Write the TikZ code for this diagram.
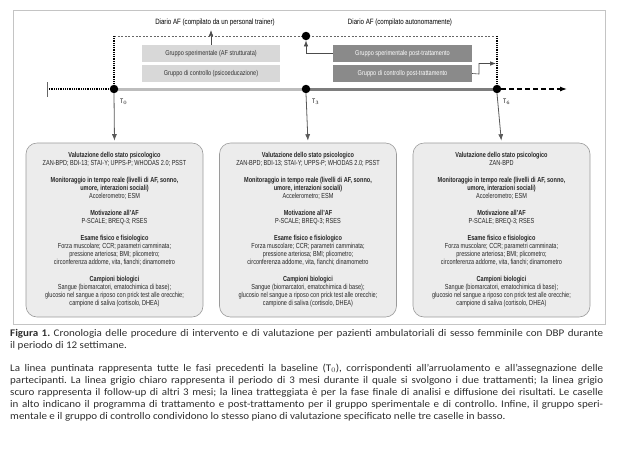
\documentclass[tikz,border=0pt]{standalone}
\usepackage{fontspec}
\setmainfont[FakeStretch=1.08]{Carlito}
\newfontfamily\cond[FakeStretch=0.8]{Liberation Sans}
\newfontfamily\condb[FakeStretch=0.76]{Liberation Sans}
\usetikzlibrary{arrows.meta,backgrounds}
\definecolor{framec}{HTML}{C4C4C4}
\definecolor{lightfill}{HTML}{D8D8D8}
\definecolor{darkfill}{HTML}{8A8A8A}
\definecolor{lightline}{HTML}{BDBDBD}
\definecolor{darkline}{HTML}{7E7E7E}
\definecolor{bfill}{HTML}{ECECEC}
\definecolor{bdraw}{HTML}{9A9A9A}
\definecolor{captc}{HTML}{2E2E2E}
\newcommand\bxtext[1]{%
\textbf{Valutazione dello stato psicologico}\\
#1\\[9pt]
\textbf{Monitoraggio in tempo reale (livelli di AF, sonno,}\\
\textbf{umore, interazioni sociali)}\\
Accelerometro; ESM\\[9pt]
\textbf{Motivazione all’AF}\\
P-SCALE; BREQ-3; RSES\\[9pt]
\textbf{Esame fisico e fisiologico}\\
Forza muscolare; CCR; parametri camminata;\\
pressione arteriosa; BMI; plicometro;\\
circonferenza addome, vita, fianchi; dinamometro\\[9pt]
\textbf{Campioni biologici}\\
Sangue (biomarcatori, ematochimica di base);\\
glucosio nel sangue a riposo con prick test alle orecchie;\\
campione di saliva (cortisolo, DHEA)}
\begin{document}
\begin{tikzpicture}[x=1pt,y=-1pt,
  small/.style={font=\cond\fontsize{7}{7.5}\selectfont},
  lbox/.style={small,fill=lightfill,text=black!80,minimum width=138pt,minimum height=17pt,inner sep=0pt},
  dbox/.style={small,fill=darkfill,text=white,minimum width=139pt,minimum height=17pt,inner sep=0pt},
  dot/.style={circle,fill=black,inner sep=0pt,minimum size=8.5pt},
  bbox/.style={font=\condb\fontsize{7.3}{8}\selectfont,align=center,fill=bfill,draw=bdraw,line width=0.6pt,rounded corners=11pt,minimum width=177pt,minimum height=174pt,inner sep=2pt,text=black!85},
  arr/.style={-{Latex[length=6pt,width=4.5pt]},line width=0.6pt,draw=black!70},
  darr/.style={-{Latex[length=6.5pt,width=5pt]},line width=0.8pt,draw=black!65},
  tlab/.style={font=\cond\fontsize{6.5}{6.5}\selectfont,anchor=west,inner sep=0pt},
  diario/.style={font=\cond\fontsize{7.7}{8}\selectfont,text=black}
]
\useasboundingbox (0,0) rectangle (618,448);
% frame
\draw[framec,line width=0.8pt] (13,10) rectangle (605,324);
% top labels
\node[diario] (di1) at (215,23) {Diario AF (compilato da un personal trainer)};
\node[diario] (di2) at (400,23) {Diario AF (compilato autonomamente)};
% treatment boxes
\node[lbox] (le) at (211,53.5) {Gruppo sperimentale (AF strutturata)};
\node[lbox] (lc) at (211,73.5) {Gruppo di controllo (psicoeducazione)};
\node[dbox] (de) at (402.5,53.5) {Gruppo sperimentale post-trattamento};
\node[dbox] (dc) at (402.5,73.5) {Gruppo di controllo post-trattamento};
% dots
\node[dot] (d0) at (114,89) {};
\node[dot] (d3) at (306,89) {};
\node[dot] (d6) at (497,89) {};
\node[dot] (u3) at (306,36) {};
\coordinate (v0) at (114,36);
\coordinate (v6) at (497,36);
\coordinate (tk) at (47,89);
\coordinate (tkt) at (47,82);
\coordinate (tkb) at (47,97);
\coordinate (end) at (567,89);
\coordinate (a1) at (211,30);
\coordinate (cm) at (479,74);
\coordinate (cn) at (479,63.5);
\coordinate (ct) at (496,63.5);
% labels
\node[tlab] (t0) at (120,102) {T$_{0}$};
\node[tlab] (t3) at (312,102) {T$_{3}$};
\node[tlab] (t6) at (503,102) {T$_{6}$};
% bottom boxes
\node[bbox] (b0) at (114.5,230) {\bxtext{ZAN-BPD; BDI-13; STAI-Y; UPPS-P; WHODAS 2.0; PSST}};
\node[bbox] (b3) at (308,230) {\bxtext{ZAN-BPD; BDI-13; STAI-Y; UPPS-P; WHODAS 2.0; PSST}};
\node[bbox] (b6) at (501.5,230) {\bxtext{ZAN-BPD}};
\begin{scope}[on background layer]
\draw[black!60,dash pattern=on 2pt off 1.6pt,line width=0.4pt] (v0) -- (v6);
\draw[black,line width=1.8pt,dash pattern=on 0.9pt off 0.9pt] (v0) -- (d0.center);
\draw[black,line width=1.8pt,dash pattern=on 0.9pt off 0.9pt] (v6) -- (d6.center);
\draw[black,line width=1.8pt,dash pattern=on 0.9pt off 0.9pt] (tk) -- (d0.center);
\draw[black!60,line width=0.6pt] (tkt) -- (tkb);
\draw[lightline,line width=3pt] (d0.center) -- (d3.center);
\draw[darkline,line width=3pt] (d3.center) -- (d6.center);
\end{scope}
\draw[-{Latex[length=7pt,width=5pt]},black,line width=1.2pt,dash pattern=on 4.5pt off 3.5pt] (d6.east) -- (end);
% connectors
\draw[arr] (le.north) -- (a1);
\draw[arr] (de.west) -| (u3.south);
\draw[arr] (dc.east) -- (cm) -- (cn) -- (ct);
\draw[darr,shorten >=2pt] (d0.south) -- (b0.north);
\draw[darr,shorten >=2pt] (d3.south) -- (b3.north);
\draw[darr,shorten >=2pt] (d6.south) -- (b6.north);
% caption
\node[anchor=north west,inner sep=0pt,text width=593pt,align=justify,text=captc,
  font=\fontsize{10.2}{12}\selectfont] (cap) at (10,329) {%
\hyphenpenalty=10000\tolerance=9999\parindent=0pt\frenchspacing
\textbf{Figura 1.} Cronologia delle procedure di intervento e di valutazione per pazienti ambulatoriali di sesso femminile con DBP durante\linebreak
il periodo di 12 settimane.\par\vspace{11pt}
La linea puntinata rappresenta tutte le fasi precedenti la baseline (T$_0$), corrispondenti all’arruolamento e all’assegnazione delle\linebreak
partecipanti. La linea grigio chiaro rappresenta il periodo di 3 mesi durante il quale si svolgono i due trattamenti; la linea grigio\linebreak
scuro rappresenta il follow-up di altri 3 mesi; la linea tratteggiata è per la fase finale di analisi e diffusione dei risultati. Le caselle\linebreak
in alto indicano il programma di trattamento e post-trattamento per il gruppo sperimentale e di controllo. Infine, il gruppo speri-\linebreak
mentale e il gruppo di controllo condividono lo stesso piano di valutazione specificato nelle tre caselle in basso.};
\end{tikzpicture}
\end{document}
